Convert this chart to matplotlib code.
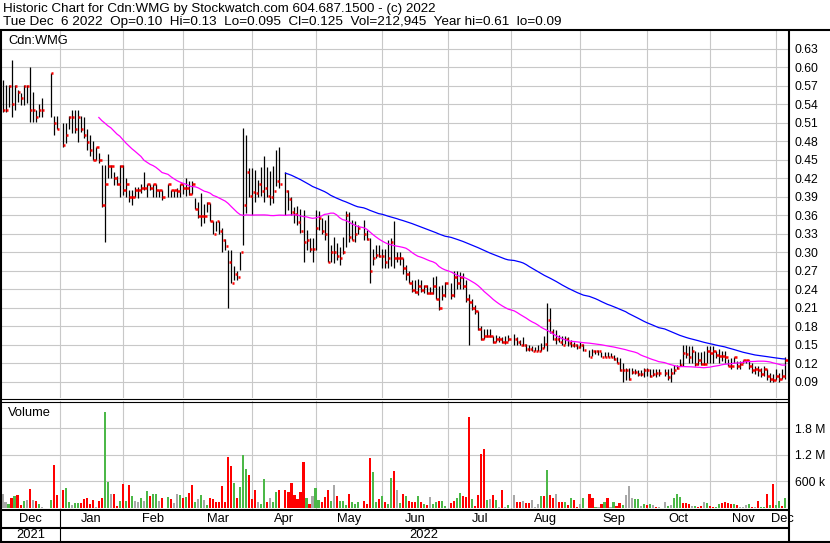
import numpy as np
import pandas as pd
import matplotlib
matplotlib.use("Agg")
import matplotlib.pyplot as plt
from matplotlib.lines import Line2D

# ---------------- data ----------------
start_date, end_date = "2021-12-07", "2022-12-06"
holidays = ["2021-12-27", "2021-12-28", "2022-01-03", "2022-02-21", "2022-04-15",
            "2022-05-23", "2022-07-01", "2022-08-01", "2022-09-05", "2022-10-10"]

highs = [
    # Dec 2021
    .58, .571, .571, .612, .571, .563, .559, .571, .571, .60, .56, .531, .541, .551, .59, .521, .521,
    # Jan
    .509, .509, .521, .531, .531, .531, .521, .52, .50, .49, .481, .47, .461, .442, .442, .46, .442, .431, .424, .442,
    # Feb
    .442, .42, .401, .401, .406, .406, .411, .431, .41, .41, .41, .411, .401, .401, .41, .401, .401, .405, .41,
    # Mar
    .41, .42, .415, .415, .388, .382, .396, .379, .382, .38, .35, .35, .35, .34, .322, .304, .304, .277, .269, .30, .501, .491, .436,
    # Apr
    .436, .433, .417, .439, .456, .439, .432, .44, .466, .471, .431, .401, .39, .374, .375, .371, .369, .336, .323, .323,
    # May
    .369, .367, .355, .352, .36, .312, .325, .315, .309, .325, .367, .366, .352, .35, .344, .352, .336, .323, .306, .312, .312,
    # Jun
    .306, .306, .32, .323, .351, .30, .30, .29, .28, .27, .255, .255, .257, .255, .247, .247, .244, .26, .261, .245, .247, .252,
    # Jul
    .25, .27, .27, .268, .266, .255, .232, .225, .215, .205, .18, .175, .175, .175, .165, .166, .165, .163, .165, .166,
    # Aug
    .168, .163, .157, .163, .152, .149, .148, .147, .149, .153, .164, .218, .209, .175, .174, .166, .165, .165, .162, .158, .155, .152,
    # Sep
    .155, .152, .142, .144, .142, .142, .138, .138, .138, .136, .133, .131, .128, .12, .113, .112, .112, .11, .109, .109, .113,
    # Oct
    .113, .11, .11, .11, .11, .11, .11, .112, .117, .117, .127, .15, .15, .148, .148, .14, .138, .138, .14, .148,
    # Nov
    .148, .148, .14, .143, .14, .14, .127, .128, .131, .123, .123, .126, .126, .125, .12, .116, .115, .112, .115, .11, .105, .103,
    # Dec 2022
    .11, .105, .11, .13,
]
lows = [
    .528, .528, .536, .52, .531, .544, .539, .539, .542, .511, .512, .511, .52, .52, .52, .491, .50,
    .47, .477, .50, .493, .493, .479, .495, .486, .466, .456, .45, .45, .445, .374, .316, .42, .42, .409, .409, .39,
    .393, .39, .381, .377, .39, .388, .396, .401, .39, .401, .39, .39, .39, .385, .39, .39, .39, .39, .39,
    .395, .392, .393, .395, .37, .355, .342, .347, .366, .35, .33, .334, .33, .301, .304, .21, .25, .255, .255, .271, .312, .363, .39,
    .36, .382, .39, .391, .382, .39, .377, .38, .407, .405, .361, .369, .36, .348, .345, .331, .285, .304, .301, .285,
    .304, .336, .33, .32, .285, .285, .282, .288, .28, .298, .309, .317, .32, .317, .33, .32, .32, .251, .28, .29, .293,
    .275, .275, .275, .277, .275, .285, .28, .265, .255, .25, .236, .234, .231, .236, .234, .233, .233, .233, .225, .206, .222, .227,
    .224, .228, .24, .24, .24, .22, .15, .207, .20, .174, .157, .16, .163, .163, .153, .155, .155, .153, .152, .156,
    .15, .15, .15, .148, .14, .14, .14, .14, .14, .14, .145, .14, .169, .158, .152, .155, .15, .152, .148, .146, .147, .143,
    .145, .14, .13, .132, .135, .134, .13, .13, .13, .13, .125, .12, .107, .09, .093, .093, .103, .103, .10, .10, .097,
    .10, .097, .10, .097, .10, .10, .093, .09, .103, .11, .115, .116, .128, .12, .12, .115, .117, .117, .117, .12,
    .12, .12, .128, .12, .123, .12, .115, .11, .12, .11, .11, .12, .12, .11, .105, .102, .10, .098, .10, .093, .09, .09,
    .093, .09, .095, .095,
]
closes = [
    .53, .53, .57, .54, .57, .56, .55, .57, .57, .53, .53, .52, .53, .53, .59, .51, .50,
    .474, .49, .52, .52, .50, .52, .50, .49, .479, .466, .45, .47, .45, .376, .41, .44, .44, .42, .41, .44,
    .401, .41, .39, .39, .401, .401, .405, .405, .41, .405, .41, .401, .401, .39, .41, .401, .401, .40, .41,
    .405, .405, .395, .41, .371, .359, .359, .359, .38, .35, .33, .35, .335, .32, .311, .285, .251, .265, .26, .30, .376, .431, .392,
    .398, .396, .41, .40, .405, .391, .39, .40, .415, .41, .40, .386, .366, .362, .349, .335, .316, .32, .306, .306,
    .34, .355, .335, .33, .285, .30, .30, .294, .29, .30, .36, .325, .32, .33, .34, .33, .321, .27, .29, .296, .294,
    .294, .285, .29, .316, .29, .29, .29, .275, .265, .25, .239, .235, .245, .239, .245, .234, .234, .245, .225, .21, .23, .25,
    .23, .26, .25, .26, .245, .225, .22, .21, .205, .175, .159, .165, .165, .165, .155, .16, .16, .155, .155, .16,
    .16, .155, .15, .15, .144, .144, .14, .14, .14, .145, .152, .191, .17, .16, .16, .155, .15, .16, .153, .15, .15, .147,
    .15, .142, .131, .14, .14, .14, .131, .131, .131, .131, .127, .12, .109, .109, .109, .095, .106, .106, .102, .102, .109,
    .109, .099, .102, .105, .105, .105, .097, .105, .109, .113, .118, .136, .135, .131, .14, .119, .125, .119, .119, .14,
    .136, .14, .133, .132, .132, .131, .115, .116, .131, .116, .119, .125, .125, .116, .109, .11, .109, .102, .11, .099, .095, .093,
    .10, .095, .10, .125,
]
volumes_k = [
    307, 133, 80, 208, 261, 284, 57, 148, 170, 420, 170, 148, 80, 10, 170, 966, 284,
    398, 436, 117, 57, 95, 110, 110, 193, 208, 80, 170, 19, 148, 208, 2178, 572, 307, 307, 34, 148,
    527, 148, 511, 261, 148, 133, 208, 148, 375, 261, 307, 307, 148, 208, 246, 193, 95, 307, 284,
    223, 246, 322, 511, 133, 193, 284, 170, 57, 208, 193, 117, 133, 489, 117, 1155, 951, 549, 208, 473, 1193, 875, 739,
    193, 398, 133, 80, 648, 117, 208, 117, 360, 398, 398, 352, 549, 284, 193, 345, 1042, 223, 87, 269,
    451, 170, 117, 246, 398, 148, 511, 261, 148, 148, 57, 307, 117, 80, 133, 148, 80, 1133, 799, 133, 193,
    269, 133, 80, 663, 830, 398, 110, 307, 261, 148, 117, 117, 261, 117, 80, 57, 231, 80, 117, 148, 148, 34,
    110, 148, 223, 322, 269, 246, 2064, 193, 34, 284, 1208, 1330, 170, 193, 284, 170, 8, 398, 19, 57,
    284, 133, 133, 148, 95, 95, 170, 8, 80, 261, 269, 852, 284, 223, 299, 117, 133, 117, 57, 208, 170, 8,
    80, 223, 307, 208, 19, 8, 80, 117, 223, 8, 117, 34, 95, 57, 284, 496, 208, 193, 193, 34, 80,
    57, 80, 57, 8, 8, 117, 34, 57, 223, 299, 246, 95, 95, 80, 34, 42, 8, 34, 133, 95,
    34, 8, 8, 80, 95, 117, 95, 80, 80, 57, 8, 8, 57, 80, 8, 19, 148, 19, 19, 307, 57, 527,
    57, 148, 34, 212.945,
]
# volume bar colour per trading day: u = up (green), d = down (red), n = unchanged (grey)
vol_dir = [
    "nnududdundndunudd",          # Dec 2021
    "duunuudddddndduunddu",       # Jan
    "dudunnunuduundudnnu",        # Feb
    "duddununudddddddduduuud",    # Mar
    "ddnuudnuuddddddddudn",       # Apr
    "uudddunduuuduuudddu" "ud",   # May
    "uduudnududddudud" "nuuduu",  # Jun
    "dduuddduddddundundnu",       # Jul
    "nddnddnnnududdnddudud" "d",  # Aug
    "nuddundudnuddunnnuunu",      # Sep
    "dundnnunuuudddnuddnu",       # Oct
    "dduuddddudnnnudnduudud",     # Nov
    "uudu",                       # Dec 2022
]

price_ticks = [0.09, 0.12, 0.15, 0.18, 0.21, 0.24, 0.27, 0.30, 0.33, 0.36, 0.39, 0.42, 0.45,
               0.48, 0.51, 0.54, 0.57, 0.60, 0.63]
vol_ticks = [600e3, 1.2e6, 1.8e6]
vol_tick_labels = ["600 k", "1.2 M", "1.8 M"]
ma_short, ma_long = 30, 90
header1 = "Historic Chart for Cdn:WMG by Stockwatch.com 604.687.1500 - (c) 2022"
header2 = ("Tue Dec  6 2022  Op=0.10  Hi=0.13  Lo=0.095  Cl=0.125  Vol=212,945  "
           "Year hi=0.61  lo=0.09")

# ---------------- build series ----------------
slots = pd.bdate_range(start_date, end_date)          # every weekday gets a slot
hol = pd.to_datetime(holidays)
trade_days = slots[~slots.isin(hol)]
dirs = list("".join(vol_dir))
df = pd.DataFrame({"hi": highs, "lo": lows, "cl": closes,
                   "vol": np.array(volumes_k) * 1000.0}, index=trade_days)
df["x"] = slots.get_indexer(trade_days)
df["dir"] = (dirs + ["n"] * len(df))[:len(df)]
df["ma1"] = df["cl"].rolling(ma_short).mean()
df["ma2"] = df["cl"].rolling(ma_long).mean()

months = pd.Series(slots.month + slots.year * 100)
first_idx = [i for i in range(len(slots)) if i == 0 or months[i] != months[i - 1]]

# ---------------- figure ----------------
W, H = 830, 543
fig = plt.figure(figsize=(W / 100, H / 100), dpi=100)
fig.patch.set_facecolor("white")
FONT = "Liberation Sans"

def fx(x):
    return x / W

def fy(y):
    return 1 - y / H

X_LEFT, X_RIGHT = 1, 788
x0px, dxpx = 2.5, 3.01
xlim = ((X_LEFT - x0px) / dxpx, (X_RIGHT - x0px) / dxpx)

ax = fig.add_axes([fx(X_LEFT), fy(398), fx(X_RIGHT - X_LEFT), (398 - 30) / H])
axv = fig.add_axes([fx(X_LEFT), fy(510), fx(X_RIGHT - X_LEFT), (510 - 401) / H])

grid_c = "#c8c8c8"
for a in (ax, axv):
    a.set_xlim(*xlim)
    for s in a.spines.values():
        s.set_visible(False)
    a.set_xticks([])
    a.yaxis.set_ticks_position("right")
    a.tick_params(axis="y", length=0, pad=5, labelsize=8.5)
    for i in first_idx[1:]:
        a.axvline(i, color=grid_c, lw=0.8, zorder=0)

# price panel
p_top = 0.63 + (48.8 - 30) * 0.0016216
p_bot = 0.63 - (398 - 48.8) * 0.0016216
ax.set_ylim(p_bot, p_top)
ax.set_yticks(price_ticks)
ax.set_yticklabels([f"{t:.2f}" for t in price_ticks], fontfamily=FONT, fontsize=8.7)
for t in price_ticks:
    ax.axhline(t, color=grid_c, lw=0.8, zorder=0)

ax.vlines(df["x"], df["lo"], df["hi"], colors="black", lw=0.9, zorder=2)
ax.hlines(df["cl"], df["x"] + 0.1, df["x"] + 0.9, colors="#ff0000", lw=1.8, zorder=3)
ax.plot(df["x"], df["ma1"], color="#ff00ff", lw=0.9, zorder=4)
ax.plot(df["x"], df["ma2"], color="#0000ff", lw=0.9, zorder=4)
ax.text(fx(8), fy(41), "Cdn:WMG", transform=fig.transFigure, fontsize=9.3,
        fontfamily=FONT, va="center", ha="left")

# volume panel
v_per_px = 600e3 / 26.4
axv.set_ylim(-2.5 * v_per_px, (507.5 - 401) * v_per_px)
axv.set_yticks(vol_ticks)
axv.set_yticklabels(vol_tick_labels, fontfamily=FONT, fontsize=8.7)
for t in vol_ticks:
    axv.axhline(t, color=grid_c, lw=0.8, zorder=0)
cmap = {"u": "#4cb848", "d": "#ff0000", "n": "#a8a8a8"}
axv.bar(df["x"], df["vol"], width=0.7, color=[cmap[d] for d in df["dir"]],
        bottom=0, zorder=2, linewidth=0)
axv.text(fx(8), fy(413), "Volume", transform=fig.transFigure, fontsize=9.3,
         fontfamily=FONT, va="center", ha="left")

# header
fig.text(fx(3), fy(9), header1, fontsize=9.6, fontfamily=FONT, va="center", ha="left")
fig.text(fx(3), fy(22), header2, fontsize=9.7, fontfamily=FONT, va="center", ha="left")

# frame lines
def line(x0, y0, x1, y1, lw):
    fig.add_artist(Line2D([fx(x0), fx(x1)], [fy(y0), fy(y1)], color="black", lw=lw,
                          transform=fig.transFigure, solid_capstyle="butt"))

line(0, 29.5, W, 29.5, 1.5)
line(1, 29, 1, H, 1.5)
line(789, 29, 789, H, 1.5)
line(0, 398.5, 789, 398.5, 0.8)
line(0, 401.5, 789, 401.5, 0.8)
line(0, 510, 789, 510, 1.5)
line(0, 528, 789, 528, 1.5)
line(0, 542, W, 542, 1.5)

def slot_px(i):
    return x0px + dxpx * i

bounds = [X_LEFT] + [slot_px(i) for i in first_idx[1:]] + [X_RIGHT]
line(bounds[1], 510, bounds[1], 542, 0.8)
mnames = [slots[i].strftime("%b") for i in first_idx]
for k, name in enumerate(mnames):
    cx = (bounds[k] + bounds[k + 1]) / 2
    if k == len(mnames) - 1:
        cx = bounds[k] + 6
    fig.text(fx(cx), fy(519), name, fontsize=9.3, fontfamily=FONT, va="center", ha="center")
fig.text(fx((bounds[0] + bounds[1]) / 2), fy(535), "2021", fontsize=9.3, fontfamily=FONT,
         va="center", ha="center")
fig.text(fx((bounds[1] + X_RIGHT) / 2), fy(535), "2022", fontsize=9.3, fontfamily=FONT,
         va="center", ha="center")

fig.savefig("out.png", dpi=100)
